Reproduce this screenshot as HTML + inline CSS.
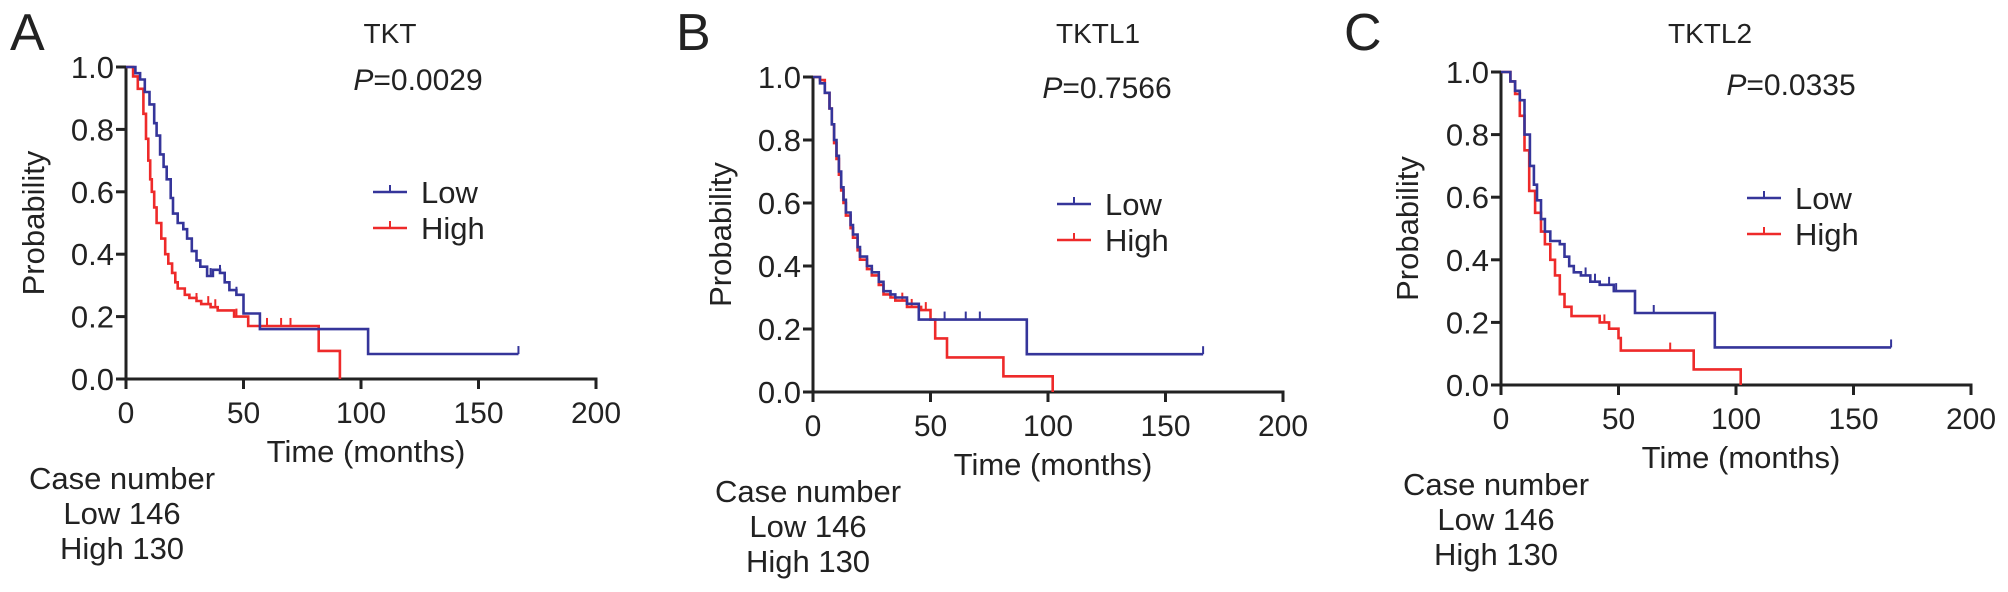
<!DOCTYPE html>
<html><head><meta charset="utf-8"><style>
html,body{margin:0;padding:0;background:#fff;}
svg{display:block;font-family:"Liberation Sans",Arial,sans-serif;}
</style></head><body>
<svg id="fig" width="2008" height="592" viewBox="0 0 2008 592"></svg>
<script>
// ---- data ----
const xTicks = [0, 50, 100, 150, 200];
const yTicks = [0.0, 0.2, 0.4, 0.6, 0.8, 1.0];
const genes = ["TKT", "TKTL1", "TKTL2"];
const pvals = ["0.0029", "0.7566", "0.0335"];
const caseLow = 146, caseHigh = 130;

const aLowT  = [0, 4, 6, 8, 10, 12, 13, 14.5, 16, 17.3, 19, 20, 22, 24.4, 26, 28, 30, 31.6, 34.5, 37, 40, 42, 44, 47, 50, 57, 103, 167];
const aLowP  = [1.0, 0.98, 0.96, 0.92, 0.88, 0.82, 0.78, 0.72, 0.68, 0.64, 0.58, 0.53, 0.50, 0.48, 0.45, 0.41, 0.38, 0.36, 0.33, 0.35, 0.34, 0.31, 0.285, 0.27, 0.21, 0.16, 0.08, 0.08];
const aHighT = [0, 3, 5, 7.4, 8.5, 9.5, 10.3, 11, 12, 13, 15, 16.7, 18, 19.6, 21, 22, 25, 27, 30, 32, 36, 39, 46, 52, 82, 91];
const aHighP = [1.0, 0.97, 0.93, 0.85, 0.77, 0.70, 0.64, 0.60, 0.55, 0.50, 0.45, 0.40, 0.37, 0.34, 0.31, 0.29, 0.27, 0.26, 0.25, 0.24, 0.23, 0.22, 0.20, 0.17, 0.09, 0.0];

const bLowT  = [0, 3, 5, 7, 8, 9, 10, 11, 12, 13, 14, 16, 17, 19, 20, 23, 25, 28, 30, 33, 35, 40, 45, 91, 166];
const bLowP  = [1.0, 0.98, 0.95, 0.90, 0.85, 0.80, 0.75, 0.70, 0.65, 0.61, 0.57, 0.53, 0.50, 0.46, 0.43, 0.40, 0.38, 0.35, 0.32, 0.31, 0.30, 0.28, 0.23, 0.12, 0.12];
const bHighT = [0, 3, 5, 7, 8, 9, 10, 11, 12, 13, 14, 16, 17, 19, 20, 23, 25, 28, 30, 33, 35, 40, 46, 50, 52, 57, 81, 102];
const bHighP = [1.0, 0.99, 0.95, 0.90, 0.85, 0.79, 0.74, 0.69, 0.64, 0.60, 0.56, 0.52, 0.49, 0.45, 0.42, 0.39, 0.37, 0.34, 0.31, 0.30, 0.29, 0.27, 0.26, 0.23, 0.17, 0.11, 0.05, 0.0];

const cLowT  = [0, 4, 6, 8, 10, 12.3, 14, 15.3, 17, 18.7, 21, 25, 27, 29, 31, 34, 38, 42, 48, 57, 91, 166];
const cLowP  = [1.0, 0.97, 0.94, 0.91, 0.80, 0.70, 0.64, 0.59, 0.53, 0.49, 0.46, 0.45, 0.41, 0.38, 0.36, 0.35, 0.33, 0.32, 0.30, 0.23, 0.12, 0.12];
const cHighT = [0, 4, 6, 8, 10, 12, 14.5, 17, 18.7, 21, 23, 25, 27, 30, 40, 42, 46, 50, 51, 82, 102];
const cHighP = [1.0, 0.97, 0.93, 0.86, 0.75, 0.62, 0.55, 0.49, 0.45, 0.40, 0.35, 0.29, 0.25, 0.22, 0.22, 0.20, 0.18, 0.15, 0.11, 0.05, 0.0];

const aLowCens = [36, 40, 44, 47, 167];
const aHighCens = [30, 35, 38, 47, 60, 66, 70];
const bLowCens = [56, 65, 71, 166];
const bHighCens = [38, 42, 48];
const cLowCens = [36, 40, 46, 49, 65, 166];
const cHighCens = [44, 72];

const panels = [
  {letter:"A", ax:126, ay0:379, ay1:67, titleX:390, pX:418, pY:90, legX:373, legY:192, capX:122, lowT:aLowT, lowP:aLowP, highT:aHighT, highP:aHighP, lowC:aLowCens, highC:aHighCens, letterX:10, ylabX:33},
  {letter:"B", ax:813, ay0:392, ay1:77, titleX:1098, pX:1107, pY:98, legX:1057, legY:204, capX:808, lowT:bLowT, lowP:bLowP, highT:bHighT, highP:bHighP, lowC:bLowCens, highC:bHighCens, letterX:676, ylabX:720},
  {letter:"C", ax:1501, ay0:385, ay1:72, titleX:1710, pX:1791, pY:95, legX:1747, legY:198, capX:1496, lowT:cLowT, lowP:cLowP, highT:cHighT, highP:cHighP, lowC:cLowCens, highC:cHighCens, letterX:1344, ylabX:1407}
];
const XW = 470; // px for 200 months

const NS = "http://www.w3.org/2000/svg";
const svg = document.getElementById("fig");
function mk(tag, attrs, parent, text){
  const e = document.createElementNS(NS, tag);
  for (const k in attrs) e.setAttribute(k, attrs[k]);
  if (text !== undefined) e.textContent = text;
  (parent||svg).appendChild(e);
  return e;
}
const BLUE = "#35359a", RED = "#ee2a2a", INK = "#222";

panels.forEach((p, i) => {
  const g = mk("g", {});
  
  
  const xs = t => p.ax + t / 200 * XW;
  const ys = v => p.ay0 - v * (p.ay0 - p.ay1);

  const L = mk("text", {x:p.letterX, y:50, "font-size":52, fill:INK}, g, p.letter);
  
  
  const T = mk("text", {x:p.titleX, y:43, "font-size":28, fill:INK, "text-anchor":"middle"}, g, genes[i]);
  
  
  const P = mk("text", {x:p.pX, y:p.pY, "font-size":30, fill:INK, "text-anchor":"middle"}, g);
  
  
  mk("tspan", {"font-style":"italic"}, P, "P");
  mk("tspan", {}, P, "=" + pvals[i]);

  // axes
  const yAx = mk("line", {x1:p.ax, y1:ys(1), x2:p.ax, y2:p.ay0, stroke:INK, "stroke-width":3}, g);
  
  
  const xAx = mk("line", {x1:p.ax, y1:p.ay0, x2:xs(200)+1.5, y2:p.ay0, stroke:INK, "stroke-width":3}, g);
  
  
  yTicks.forEach(v => {
    mk("line", {x1:p.ax-10, y1:ys(v), x2:p.ax, y2:ys(v), stroke:INK, "stroke-width":3}, g);
    const t = mk("text", {x:p.ax-12, y:ys(v)+11, "font-size":31, fill:INK, "text-anchor":"end"}, g, v.toFixed(1));
    
    
  });
  xTicks.forEach(v => {
    mk("line", {x1:xs(v), y1:p.ay0, x2:xs(v), y2:p.ay0+10, stroke:INK, "stroke-width":3}, g);
    const t = mk("text", {x:xs(v), y:p.ay0+44, "font-size":30, fill:INK, "text-anchor":"middle"}, g, String(v));
    
    
  });
  const xt = mk("text", {x:p.ax+240, y:p.ay0+83, "font-size":31, fill:INK, "text-anchor":"middle"}, g, "Time (months)");
  
  
  const ycy = (p.ay0 + p.ay1) / 2;
  const yt = mk("text", {x:p.ylabX+11, y:ycy, "font-size":31, fill:INK, "text-anchor":"middle", transform:`rotate(-90 ${p.ylabX+11} ${ycy})`}, g, "Probability");
  
  

  // case numbers
  const base = p.ay0 + 110;
  [["Case number",0],["Low " + caseLow,35],["High " + caseHigh,70]].forEach(([s,dy]) => {
    const c = mk("text", {x:p.capX, y:base+dy, "font-size":31, fill:INK, "text-anchor":"middle"}, g, s);
    
    
  });

  // curves
  function stepPath(T, V){
    let d = `M${xs(T[0]).toFixed(1)},${ys(V[0]).toFixed(1)}`;
    for (let k = 1; k < T.length; k++){
      d += ` H${xs(T[k]).toFixed(1)} V${ys(V[k]).toFixed(1)}`;
    }
    return d;
  }
  function valAt(T, V, t){
    let v = V[0];
    for (let k = 0; k < T.length; k++) if (T[k] <= t) v = V[k];
    return v;
  }
  [[p.highT,p.highP,p.highC,RED,"high"],[p.lowT,p.lowP,p.lowC,BLUE,"low"]].forEach(([T,V,C,col,nm]) => {
    const path = mk("path", {d:stepPath(T,V), fill:"none", stroke:col, "stroke-width":2.6}, g);
    
    
    C.forEach(t => {
      const v = valAt(T, V, t);
      const m = mk("line", {x1:xs(t), y1:ys(v), x2:xs(t), y2:ys(v)-8, stroke:col, "stroke-width":2}, g);
      
      
    });
  });

  // legend
  [["Low",BLUE,0],["High",RED,36]].forEach(([s,col,dy]) => {
    const y = p.legY + dy;
    const lg = mk("g", {}, g);
    
    
    mk("line", {x1:p.legX, y1:y, x2:p.legX+34, y2:y, stroke:col, "stroke-width":2.6}, lg);
    mk("line", {x1:p.legX+17, y1:y, x2:p.legX+17, y2:y-7, stroke:col, "stroke-width":2}, lg);
    mk("text", {x:p.legX+48, y:y+11, "font-size":31, fill:INK}, lg, s);
  });
});
</script>
</body></html>
